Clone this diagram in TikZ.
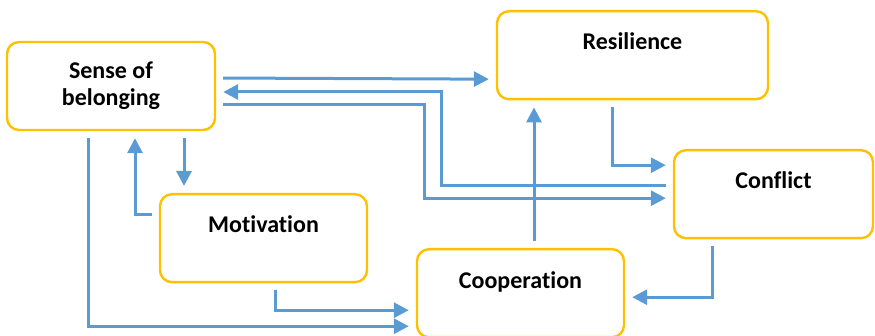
\documentclass[tikz,border=0pt]{standalone}
\usepackage{fontspec}
\setmainfont{Carlito}[Ligatures=NoCommon]
\usetikzlibrary{arrows.meta}
\definecolor{boxOrange}{RGB}{255, 192, 0}
\definecolor{arrowBlue}{RGB}{91, 155, 213}

\begin{document}
\begin{tikzpicture}[x=1pt, y=-1pt,
          box/.style={draw=boxOrange, fill=white, line width=2.4pt, rounded corners=12pt,
                      minimum height=88pt, align=center,
                      font=\fontsize{24}{27}\selectfont\bfseries},
          topbox/.style={box, anchor=north, inner ysep=0pt,
                      text height=38pt, text depth=50pt},
          arr/.style={-{Triangle[length=15pt, width=15pt]}, arrowBlue, line width=3pt,
                      shorten <=7pt, shorten >=7pt}
        ]
        \useasboundingbox (0,0) rectangle (875,336);
        \node[box, minimum width=208pt] (sense) at (111,86)    {Sense of\\belonging};
        \node[topbox, minimum width=207pt] (motiv)  at (263.5,193) {Motivation};
        \node[topbox, minimum width=271pt] (resil)  at (632.5,10)  {Resilience};
        \node[topbox, minimum width=199pt] (confl)  at (773.5,149) {Conflict};
        \node[topbox, minimum width=207pt, text depth=48pt]
                   (coop)   at (520.5,248) {Cooperation};

        \draw[arr] ([yshift=8pt]sense.east) -- ([yshift=-24pt]resil.west);
        \draw[arr] ([yshift=9pt]confl.west) -- ++(-231,0) |- ([yshift=-6pt]sense.east);
        \draw[arr] ([yshift=-19pt]sense.east) -- ++(208,0) |- ([yshift=-4pt]confl.west);
        \draw[arr] ([xshift=-20.5pt]resil.south) |- ([yshift=29pt]confl.west);
        \draw[arr] ([xshift=13.5pt]coop.north) -- ([xshift=-98.5pt]resil.south);
        \draw[arr] ([xshift=-61.5pt]confl.south) |- ([yshift=-4pt]coop.east);
        % belonging <-> motivation
        \draw[arr] ([xshift=73pt]sense.south) -- ([xshift=-79.5pt]motiv.north);
        \draw[arr] ([yshift=23.5pt]motiv.west) -| ([xshift=24pt]sense.south);
        % both feed cooperation from below
        \draw[arr] ([xshift=11.5pt]motiv.south) |- ([yshift=-17pt]coop.west);
        \draw[arr] ([xshift=-23pt]sense.south) |- ([yshift=-33pt]coop.west);
      \end{tikzpicture}
\end{document}
